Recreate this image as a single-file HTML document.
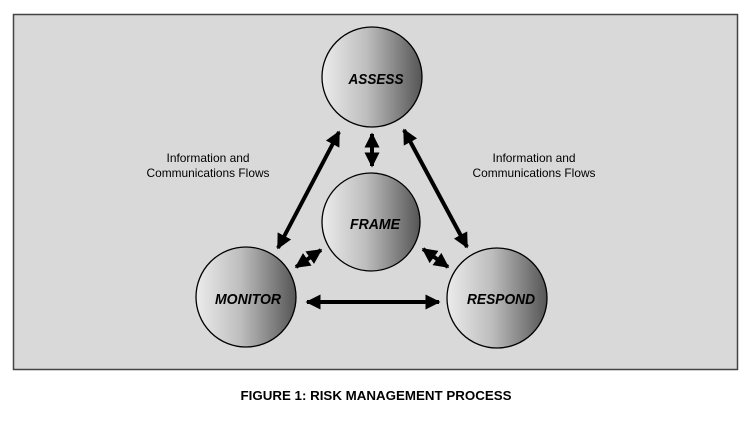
<!DOCTYPE html>
<html><head><style>
body{margin:0;background:#fff;width:749px;height:416px;overflow:hidden}
</style></head><body>
<svg width="749" height="416" viewBox="0 0 749 416" xmlns="http://www.w3.org/2000/svg" font-family="Liberation Sans, sans-serif">
<defs>
<linearGradient id="g" x1="0" y1="0" x2="1" y2="0">
<stop offset="0" stop-color="#ececec"/><stop offset="0.45" stop-color="#bdbdbd"/><stop offset="1" stop-color="#555"/>
</linearGradient>
<marker id="ah" viewBox="0 0 10 10" refX="9" refY="5" markerWidth="3.8" markerHeight="3.8" orient="auto-start-reverse">
<path d="M0,0 L10,5 L0,10 z" fill="#000"/></marker>
</defs>
<rect x="13.5" y="14.5" width="724" height="355" fill="#d9d9d9" stroke="#444" stroke-width="1.5"/>
<g stroke="#000" stroke-width="1.3" fill="url(#g)">
<circle cx="372" cy="77" r="50"/>
<circle cx="371" cy="222" r="49"/>
<circle cx="246" cy="297" r="50"/>
<circle cx="497" cy="298" r="50"/>
</g>
<g stroke="#000" stroke-width="4" marker-start="url(#ah)" marker-end="url(#ah)">
<line x1="339" y1="132" x2="278" y2="248"/>
<line x1="372" y1="134" x2="372" y2="166"/>
<line x1="404" y1="130" x2="467" y2="247"/>
<line x1="321" y1="250" x2="296" y2="267"/>
<line x1="423" y1="249" x2="448" y2="267"/>
<line x1="307" y1="302" x2="439" y2="302"/>
</g>
<g font-weight="bold" font-style="italic" font-size="15" text-anchor="middle" fill="#000" lengthAdjust="spacingAndGlyphs">
<text x="376" y="84" textLength="55" lengthAdjust="spacingAndGlyphs">ASSESS</text>
<text x="375" y="229" textLength="50" lengthAdjust="spacingAndGlyphs">FRAME</text>
<text x="248" y="304" textLength="66" lengthAdjust="spacingAndGlyphs">MONITOR</text>
<text x="501" y="304" textLength="68" lengthAdjust="spacingAndGlyphs">RESPOND</text>
</g>
<g font-size="12" text-anchor="middle" fill="#000">
<text x="208" y="162" textLength="83" lengthAdjust="spacingAndGlyphs">Information and</text>
<text x="208" y="177" textLength="123" lengthAdjust="spacingAndGlyphs">Communications Flows</text>
<text x="534" y="162" textLength="83" lengthAdjust="spacingAndGlyphs">Information and</text>
<text x="534" y="177" textLength="123" lengthAdjust="spacingAndGlyphs">Communications Flows</text>
</g>
<text x="376" y="400" font-size="13" font-weight="bold" text-anchor="middle" textLength="271" lengthAdjust="spacingAndGlyphs">FIGURE 1: RISK MANAGEMENT PROCESS</text>
</svg>
</body></html>
